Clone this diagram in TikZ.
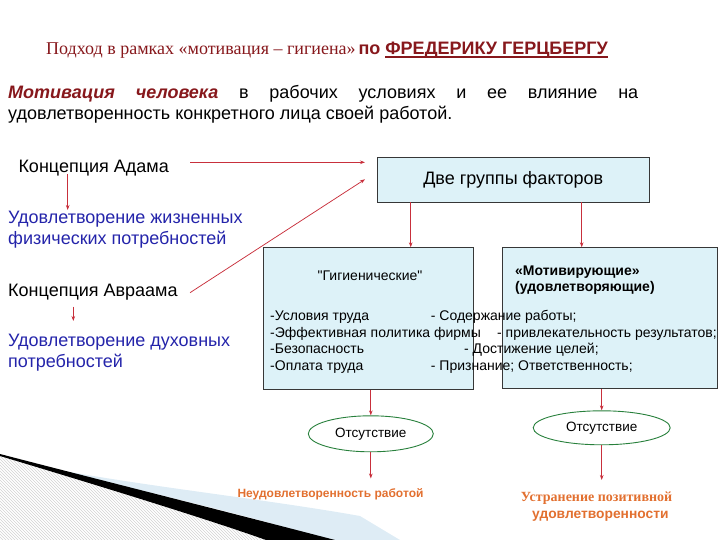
\documentclass[tikz,border=0pt]{standalone}
\usepackage{fontspec}
\setmainfont{Liberation Sans}[Ligatures=TeXOff]
\newfontfamily\serifcyr{Liberation Serif}
\usetikzlibrary{arrows.meta,shapes.geometric,patterns}
\definecolor{titlered}{RGB}{135,24,28}
\definecolor{bluetext}{RGB}{36,36,170}
\definecolor{arrowred}{RGB}{200,48,60}
\definecolor{boxfill}{RGB}{221,242,248}
\definecolor{boxline}{RGB}{55,55,55}
\definecolor{ellgreen}{RGB}{40,128,60}
\definecolor{orangetext}{RGB}{226,112,48}
\definecolor{paleband}{RGB}{222,236,245}
\newcommand\myfs[2]{\fontsize{#1}{#2}\selectfont}
\newcommand\myul[1]{\setbox0\hbox{#1}\rlap{\rule[-3pt]{\wd0}{1.5pt}}\box0}
\begin{document}
\begin{tikzpicture}[x=1pt,y=-1pt,
  txt/.style={inner sep=0pt, anchor=base west},
  big/.style={font=\myfs{18}{21}},
  small/.style={font=\myfs{14}{16}},
  arr/.style={draw=arrowred, line width=0.75pt, -{Stealth[length=5pt,width=3.6pt]}},
  box/.style={draw=boxline, line width=0.8pt, fill=boxfill, inner sep=0pt, anchor=north west},
  ell/.style={ellipse, draw=ellgreen, line width=0.9pt, fill=white, inner sep=0pt, font=\myfs{13.5}{16}}
]
\useasboundingbox (0,0) rectangle (720,540);
% decorative swoosh
\fill[pattern=north west lines, pattern color=gray!35] (0,456) .. controls (100,486) and (210,520) .. (266,540) -- (0,540) -- cycle;
\fill[paleband] (70,472) .. controls (160,488) and (270,500) .. (360,516) -- (400,540) -- (330,540) .. controls (250,516) and (150,492) .. (70,474) -- cycle;
\fill[black] (0,454) .. controls (100,480) and (220,510) .. (335,540) -- (266,540) .. controls (210,520) and (100,486) .. (0,456) -- cycle;

% title
\node[txt, text=titlered] (title) at (46,55) {{\serifcyr\myfs{18}{21}Подход в рамках «мотивация – гигиена»} {\myfs{18}{21}\bfseries по \myul{ФРЕДЕРИКУ ГЕРЦБЕРГУ}}};

% paragraph
\node[txt, big] (par1) at (8,98.3) {\makebox[630pt][s]{\textcolor{titlered}{\bfseries\itshape Мотивация человека} в рабочих условиях и ее влияние на}};
\node[txt, big] (par2) at (8,120) {удовлетворенность конкретного лица своей работой.};

% left column
\node[txt, big] (adam) at (18.3,172.3) {Концепция Адама};
\node[txt, big, text=bluetext] (need1) at (8,223.3) {Удовлетворение жизненных};
\node[txt, big, text=bluetext] (need1b) at (8,244.3) {физических потребностей};
\node[txt, big] (avraam) at (8,296.7) {Концепция Авраама};
\node[txt, big, text=bluetext] (need2) at (8,346.7) {Удовлетворение духовных};
\node[txt, big, text=bluetext] (need2b) at (8,367) {потребностей};

% boxes
\node[box, minimum width=272.3pt, minimum height=45pt, font=\myfs{18}{21}] (groups) at (376.7,156.7) {Две группы факторов};
\node[box, minimum width=210pt, minimum height=141.7pt] (hyg) at (263.3,247.3) {};
\node[box, minimum width=215.5pt, minimum height=141pt] (mot) at (501.7,247.3) {};

% box contents
\node[inner sep=0pt, anchor=base, small] (hygt) at (370,280) {"Гигиенические"};
\node[txt, font=\myfs{14}{16}\bfseries] (mott1) at (515,275) {«Мотивирующие»};
\node[txt, font=\myfs{14}{16}\bfseries] (mott2) at (515,291.7) {(удовлетворяющие)};
\node[txt, small] (h1) at (270,320.5) {-Условия труда};
\node[txt, small] (h2) at (270,337) {-Эффективная политика фирмы};
\node[txt, small] (h3) at (270,353.5) {-Безопасность};
\node[txt, small] (h4) at (270,370) {-Оплата труда};
\node[txt, small] (m1) at (430.7,320.5) {- Содержание работы;};
\node[txt, small] (m2) at (497,337) {- привлекательность результатов;};
\node[txt, small] (m3) at (464,353.5) {- Достижение целей;};
\node[txt, small] (m4) at (430.7,370) {- Признание; Ответственность;};

% ellipses
\node[ell, minimum width=125pt, minimum height=36pt] (abs1) at (370.8,433.8) {Отсутствие};
\node[ell, minimum width=137pt, minimum height=34pt] (abs2) at (601.7,427.8) {\raisebox{2pt}{Отсутствие}};

% results
\node[txt, text=orangetext, font=\myfs{12}{14}\bfseries] (res1) at (237.3,497.3) {Неудовлетворенность работой};
\node[txt, text=orangetext, font=\serifcyr\myfs{14}{17}\bfseries] (res2) at (520.7,501) {Устранение позитивной};
\node[txt, text=orangetext, font=\myfs{13.8}{16}\bfseries] (res2b) at (532,518.3) {удовлетворенности};

% connector end points
\coordinate (a1s) at (190,162.3);
\coordinate (a1e) at (365,162.3);
\coordinate (a2s) at (190,292.7);
\coordinate (a2e) at (365,179.3);
\coordinate (d1s) at (67.7,174);
\coordinate (d1e) at (67.7,210);
\coordinate (d2s) at (73.3,306.7);
\coordinate (d2e) at (73.3,321);
\coordinate (g1) at ([xshift=34pt]groups.south west);
\coordinate (g2) at ([xshift=205pt]groups.south west);
\coordinate (r1) at (370.8,478.5);
\coordinate (r2) at (601.7,480);

% connectors
\draw[arr] (a1s) -- (a1e);
\draw[arr] (a2s) -- (a2e);
\draw[arr] (d1s) -- (d1e);
\draw[arr] (d2s) -- (d2e);
\draw[arr] (g1) -- (g1 |- hyg.north);
\draw[arr] (g2) -- (g2 |- mot.north);
\draw[arr] (abs1.north |- hyg.south) -- (abs1.north);
\draw[arr] (abs1.south) -- (r1);
\draw[arr] (abs2.north |- mot.south) -- (abs2.north);
\draw[arr] (abs2.south) -- (r2);
\end{tikzpicture}
\end{document}
